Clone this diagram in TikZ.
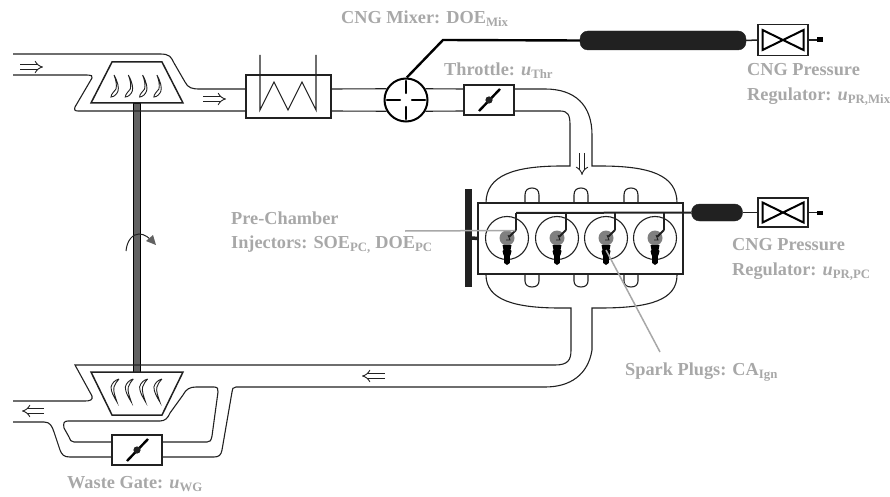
\documentclass[tikz,border=0pt]{standalone}
\usepackage{fontspec}
\setmainfont{Liberation Serif}
\usepackage{xcolor}
\usetikzlibrary{arrows.meta}
\definecolor{labelgray}{gray}{0.66}
\definecolor{shaftgray}{gray}{0.38}
\definecolor{darkline}{gray}{0.13}
\tikzset{
	pipe/.style={draw=darkline, line width=1.1pt},
	box/.style={draw=darkline, line width=1.3pt, fill=white, minimum width=50pt, inner sep=0pt},
	thickline/.style={draw=black, line width=2.4pt},
	tank/.style={fill=darkline, draw=darkline, rounded corners=8pt, inner sep=0pt},
	caption/.style={text=labelgray, font=\fontsize{18.3}{24.8}\selectfont\bfseries, align=left, anchor=west, inner sep=0pt},
	leader/.style={draw=labelgray, line width=1.5pt},
	flow/.style={draw=darkline, double, double distance=3.4pt, line width=0.9pt, -{Implies[length=5pt, width=13pt]}},
}
\begin{document}
\begin{tikzpicture}[x=1pt, y=-1pt]
	\useasboundingbox (0,0) rectangle (890,497);

	% boxes in the gas path
	\node[box, minimum width=85pt, minimum height=43pt] (cooler) at (288.5,96.5) {};
	\node[draw=black, line width=2pt, fill=white, circle, minimum size=43pt, inner sep=0pt] (mixer) at (406,100) {};
	\node[box, minimum height=30pt] (throttle) at (489,100) {};
	\node[box, minimum height=30pt] (wastegate) at (137,450) {};
	\node[box, minimum height=31pt] (regmix) at (783,40) {};
	\node[box, minimum height=29pt] (regpc) at (783,212.5) {};
	\node[tank, minimum width=166pt, minimum height=19pt] (tankmix) at (663,40.5) {};
	\node[tank, minimum width=51pt, minimum height=17pt] (tankpc) at (717,212.5) {};
	\node[box, minimum width=205pt, minimum height=71pt] (engine) at (580.5,238.5) {};
	\coordinate (endmix) at (823,40);
	\coordinate (endpc) at (823,212.5);

	% shaft, compressor, turbine
	\draw[draw=black, fill=shaftgray, line width=0.6pt] (133,103) rectangle (140,372);
	\draw[draw=darkline, line width=1.5pt] (112,62) -- (162,62) -- (183,103) -- (91,103) -- cycle;
	\draw[draw=darkline, line width=1.5pt] (91,372) -- (183,372) -- (162,415) -- (112,415) -- cycle;
	\foreach \x in {0,14.3,28.6,42.9} {
		\draw[darkline, line width=0.9pt, fill=white] (114+\x,75) .. controls (118+\x,82) and (119+\x,88) .. (118+\x,91) .. controls (117+\x,94) and (114+\x,97) .. (111+\x,97) .. controls (111+\x,94) and (114+\x,92) .. (116+\x,89) .. controls (117+\x,85) and (116+\x,80) .. (114+\x,75);
		\draw[darkline, line width=0.9pt, fill=white] (119+\x,379) .. controls (115+\x,380) and (112+\x,383) .. (111+\x,387) .. controls (111+\x,392) and (114+\x,397) .. (117+\x,402) .. controls (115+\x,396) and (113+\x,391) .. (114+\x,387) .. controls (115+\x,384) and (117+\x,381) .. (119+\x,379);
	}
	\coordinate (rotstart) at (126,251);
	\coordinate (rotend) at (156,245);
	\draw[darkline, line width=1pt] (rotstart) .. controls (127,240) and (133,234) .. (139,234) .. controls (145,234) and (149,238) .. (152,241);
	\fill[shaftgray] (rotend) -- (146,241) -- (153,235) -- cycle;

	% intake side
	\draw[pipe] (13,54) -- (160,54) .. controls (170,54) and (171,57) .. (174,63) -- (185,82) .. controls (188,88) and (192,89) .. (200,89) -- (cooler.west |- 0,89);
	\draw[pipe] (13,75) -- (85,75) .. controls (92,75) and (93,76) .. (92,78) -- (75,107) .. controls (74,110) and (75,111) .. (78,111) -- (cooler.west |- 0,111);
	\draw[pipe] (260,55) -- (260,110) -- (274,82) -- (288,110) -- (302,82) -- (316,110) -- (316,55);
	\draw[pipe] (cooler.east |- 0,89) -- (mixer.150);
	\draw[pipe] (cooler.east |- 0,111) -- (mixer.210);
	\draw[pipe] (mixer.30) -- (throttle.west |- 0,89);
	\draw[pipe] (mixer.330) -- (throttle.west |- 0,111);
	\draw[pipe] (throttle.east |- 0,89) -- (545,89) .. controls (575,89) and (592,105) .. (592,135) -- (592,166) -- (600,166) .. controls (650,166) and (677,175) .. (677,203);
	\draw[pipe] (throttle.east |- 0,111) -- (560,111) .. controls (568,111) and (570,115) .. (570,125) -- (570,166) -- (562,166) .. controls (515,166) and (486,175) .. (486,203);

	% mixer vanes and throttle plates
	\draw[thickline, line cap=round] (406,81) -- (406,93) (406,107) -- (406,119) (387,100) -- (400,100) (412,100) -- (425,100);
	\foreach \plate in {throttle, wastegate} {
		\draw[thickline, shift={(\plate.center)}] (-10,11) -- (11,-11);
		\fill[shift={(\plate.center)}, darkline] (0,0) circle (3.6pt);
	}

	% exhaust side
	\draw[pipe] (486,275) .. controls (486,300) and (515,308) .. (560,308) -- (571,308) -- (571,350) .. controls (571,360) and (568,365) .. (555,365) -- (75,365) -- (92,396) .. controls (93,400) and (90,401) .. (85,401) -- (13,401);
	\draw[pipe] (677,275) .. controls (677,300) and (650,308) .. (600,308) -- (592,308) -- (592,350) .. controls (588,375) and (570,387) .. (545,387) -- (236,387) .. controls (233,387) and (232,389) .. (232,392) -- (222,450) .. controls (221,455) and (219,457) .. (214,457) -- (wastegate.east |- 0,457);
	\draw[pipe] (13,422) -- (44,422) .. controls (50,422) and (52,426) .. (54,432) -- (60,450) .. controls (62,455) and (64,457) .. (70,457) -- (wastegate.west |- 0,457);
	\draw[pipe] (wastegate.west |- 0,442) -- (74,442) .. controls (71,442) and (70,440) .. (69,437) -- (64,428) .. controls (63,423) and (64,421) .. (68,421) -- (160,421) .. controls (165,421) and (168,418) .. (170,413) -- (183,395) .. controls (186,389) and (190,387) .. (196,387) -- (214,387) .. controls (218,387) and (218,389) .. (218,392) -- (212,436) .. controls (211,441) and (210,442) .. (207,442) -- (wastegate.east |- 0,442);

	% runners on the engine
	\foreach \x in {532,581,631} {
		\draw[pipe] (\x-7,203) -- (\x-7,195) .. controls (\x-7,190) and (\x-4,188) .. (\x,188) .. controls (\x+4,188) and (\x+7,190) .. (\x+7,195) -- (\x+7,203);
		\draw[pipe] (\x-7,274) -- (\x-7,281) .. controls (\x-7,285) and (\x-4,287) .. (\x,287) .. controls (\x+4,287) and (\x+7,285) .. (\x+7,281) -- (\x+7,274);
	}

	% flywheel
	\fill[darkline] (465,189) rectangle (472,287);
	\draw[draw=darkline, line width=3.5pt] (472,238) -- (engine.west);

	% cylinders
	\foreach \x in {507,557,606,655} {
		\draw[pipe] (\x,238) circle (21.5pt);
		\fill[gray] (\x,238) circle (7.5pt);
		\draw[darkline, line width=2pt] (\x+9,230) -- (\x+2,237);
		\draw[darkline, line width=0.9pt] (\x+1,235) -- (\x+3,240) -- (\x-1,240);
		\fill[black] (\x-4.5,245) -- (\x+4.5,245) -- (\x+3.5,250) -- (\x+4.5,251) -- (\x+3.5,255) -- (\x+2.8,256) -- (\x+2.8,263) -- (\x,265) -- (\x-2.8,263) -- (\x-2.8,256) -- (\x-3.5,255) -- (\x-4.5,251) -- (\x-3.5,250) -- cycle;
		\draw[darkline, line width=1.2pt] (\x+9,213) -- (\x+9,230);
	}

	% fuel lines
	\draw[draw=darkline, line width=2pt] (516,213) -- (tankpc.west);
	\draw[draw=darkline, line width=1.5pt] (516,213) -- (516,230);
	\draw[draw=darkline, line width=1.5pt] (tankpc.east) -- (regpc.west);
	\draw[draw=darkline, line width=1.5pt] (regmix.east) -- (endmix);
	\draw[draw=darkline, line width=1.5pt] (regpc.east) -- (endpc);
	\draw[draw=darkline, line width=1.5pt] (tankmix.east) -- (regmix.west);
	\fill[black] (817,37.5) rectangle (endmix |- 0,42.5);
	\fill[black] (817,210.5) rectangle (endpc |- 0,214.5);
	\draw[thickline] (mixer.88) -- (443,40) -- (tankmix.west);
	\foreach \reg in {regmix, regpc} {
		\draw[thickline, line width=2pt, shift={(\reg.center)}] (-20.5,-10) -- (20.5,10) -- (20.5,-10) -- (-20.5,10) -- cycle;
	}

	% flow direction
	\draw[flow] (20,67) -- (43,67);
	\draw[flow] (203,99) -- (226,99);
	\draw[flow] (582,153) -- (582,175);
	\draw[flow] (385,376) -- (362,376);
	\draw[flow] (44,411) -- (22,411);

	% labels
	\node[caption] (lblmixer) at (341,19) {CNG Mixer: DOE\textsubscript{Mix}};
	\node[caption] (lblthrottle) at (444,70.5) {Throttle: \textit{u}\textsubscript{Thr}};
	\node[caption] (lblregmix) at (747,84.5) {CNG Pressure\\Regulator: \textit{u}\textsubscript{PR,Mix}};
	\node[caption] (lblregpc) at (732,259.5) {CNG Pressure\\Regulator: \textit{u}\textsubscript{PR,PC}};
	\node[caption] (lblinj) at (231,232.5) {Pre-Chamber\\Injectors: SOE\textsubscript{PC,} DOE\textsubscript{PC}};
	\node[caption] (lblspark) at (625,372) {Spark Plugs: CA\textsubscript{Ign}};
	\node[caption] (lblwaste) at (67,484) {Waste Gate: \textit{u}\textsubscript{WG}};
	\coordinate (leadinj) at (405,231);
	\coordinate (injtip) at (515,230.5);
	\coordinate (sparktip) at (606,250);
	\coordinate (leadspark) at (660,352);
	\draw[leader] (leadinj) -- (injtip);
	\draw[leader] (sparktip) -- (leadspark);
\end{tikzpicture}
\end{document}
